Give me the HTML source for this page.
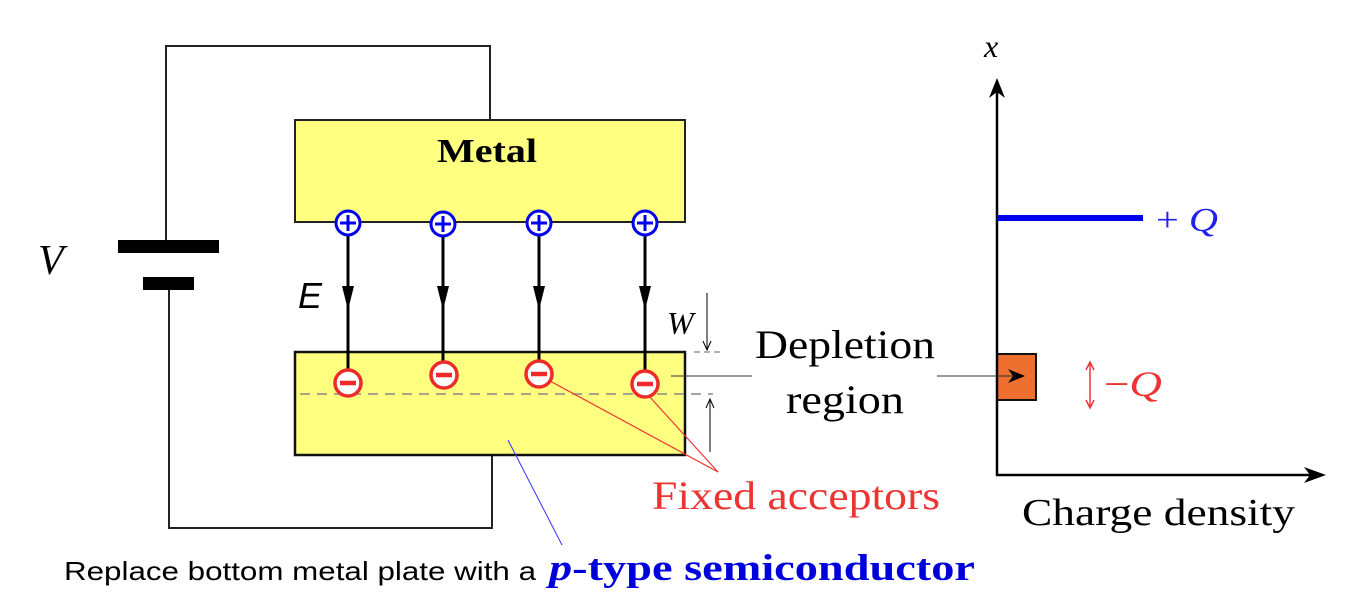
<!DOCTYPE html>
<html><head><meta charset="utf-8"><style>
body{margin:0;background:#fff}
svg{display:block}
.s{font-family:"Liberation Serif",serif}
</style></head><body>
<svg width="1364" height="602" viewBox="0 0 1364 602" xmlns="http://www.w3.org/2000/svg">
<!-- wires -->
<polyline points="166,240 166,46 490,46 490,120" fill="none" stroke="#222" stroke-width="2"/>
<polyline points="169,290 169,528 492,528 492,455" fill="none" stroke="#222" stroke-width="2"/>
<rect x="118" y="240" width="101" height="13" fill="#000"/>
<rect x="143" y="277" width="51" height="13" fill="#000"/>
<text x="38" y="274" class="s" font-size="42" font-style="italic">V</text>
<!-- metal -->
<rect x="295" y="120" width="390" height="102" fill="#ffff80" stroke="#222" stroke-width="2"/>
<text x="437" y="162" class="s" font-size="34" font-weight="bold" textLength="100" lengthAdjust="spacingAndGlyphs">Metal</text>
<!-- semiconductor -->
<rect x="295" y="352" width="390" height="103" fill="#ffff80" stroke="#111" stroke-width="2.5"/>
<line x1="300" y1="394" x2="713" y2="394" stroke="#888" stroke-width="1.5" stroke-dasharray="10,7"/>
<!-- field lines -->
<g stroke="#000" stroke-width="3">
<line x1="348" y1="223" x2="348" y2="382"/>
<line x1="443" y1="223" x2="443" y2="375"/>
<line x1="539" y1="223" x2="539" y2="374"/>
<line x1="645" y1="223" x2="645" y2="384"/>
</g>
<g fill="#000">
<path d="M342,286 L354,286 L348,310 Z"/>
<path d="M437,286 L449,286 L443,310 Z"/>
<path d="M533,286 L545,286 L539,310 Z"/>
<path d="M639,286 L651,286 L645,310 Z"/>
</g>
<text x="298" y="308" font-family="Liberation Sans,sans-serif" font-size="36" font-style="italic">E</text>
<!-- plus -->
<g fill="#fff" stroke="#0000ee" stroke-width="3">
<circle cx="348" cy="223" r="12"/><circle cx="443" cy="224" r="12"/><circle cx="539" cy="223" r="12"/><circle cx="645" cy="223" r="12"/>
</g>
<g stroke="#0000ee" stroke-width="3">
<path d="M340,223h16M348,215v16"/><path d="M435,224h16M443,216v16"/><path d="M531,223h16M539,215v16"/><path d="M637,223h16M645,215v16"/>
</g>
<!-- minus -->
<g fill="#fff" stroke="#ee2a2a" stroke-width="3.5">
<circle cx="348" cy="383" r="13"/><circle cx="444" cy="375" r="13"/><circle cx="539" cy="374" r="13"/><circle cx="645" cy="384" r="13"/>
</g>
<g stroke="#ee2a2a" stroke-width="4.5">
<path d="M340,383h16M436,375h16M531,374h16M637,384h16"/>
</g>
<!-- acceptor pointers -->
<g stroke="#ee3333" stroke-width="1.2">
<line x1="550" y1="381" x2="718" y2="472"/>
<line x1="648" y1="395" x2="718" y2="472"/>
</g>
<text x="652" y="509" class="s" font-size="40" fill="#ee3333" textLength="288" lengthAdjust="spacingAndGlyphs">Fixed acceptors</text>
<!-- W -->
<text x="667" y="334" class="s" font-size="32" font-style="italic">W</text>
<line x1="707" y1="293" x2="707" y2="350" stroke="#000" stroke-width="1"/>
<path d="M703,341 L707,350 L711,341" fill="none" stroke="#000" stroke-width="1"/>
<line x1="694" y1="352" x2="721" y2="352" stroke="#666" stroke-width="1" stroke-dasharray="6,4"/>
<line x1="710" y1="399" x2="710" y2="452" stroke="#000" stroke-width="1"/>
<path d="M706,408 L710,399 L714,408" fill="none" stroke="#000" stroke-width="1"/>
<!-- depletion -->
<line x1="671" y1="376" x2="752" y2="376" stroke="#333" stroke-width="1"/>
<text x="755" y="358" class="s" font-size="40" textLength="180" lengthAdjust="spacingAndGlyphs">Depletion</text>
<text x="786" y="413" class="s" font-size="40" textLength="118" lengthAdjust="spacingAndGlyphs">region</text>
<!-- blue pointer -->
<line x1="508" y1="440" x2="562" y2="545" stroke="#3333ff" stroke-width="1"/>
<text x="64" y="580" font-family="Liberation Sans,sans-serif" font-size="26" textLength="472" lengthAdjust="spacingAndGlyphs">Replace bottom metal plate with a</text>
<text x="549" y="580" class="s" font-size="37" font-weight="bold" fill="#0000dd" textLength="426" lengthAdjust="spacingAndGlyphs"><tspan font-style="italic">p</tspan>-type semiconductor</text>
<!-- graph -->
<rect x="997" y="354" width="39" height="46" fill="#ed7030" stroke="#111" stroke-width="2"/>
<line x1="997" y1="82" x2="997" y2="476" stroke="#000" stroke-width="2.5"/>
<path d="M989,98 L997,78 L1005,98 L997,92 Z" fill="#000"/>
<line x1="996" y1="475" x2="1318" y2="475" stroke="#000" stroke-width="2.5"/>
<path d="M1304,467 L1326,475 L1304,483 L1310,475 Z" fill="#000"/>
<text x="984" y="57" class="s" font-size="32" font-style="italic">x</text>
<line x1="997" y1="218" x2="1143" y2="218" stroke="#0000ee" stroke-width="6"/>
<text x="1156" y="231" class="s" font-size="34" fill="#2222ee" textLength="62" lengthAdjust="spacingAndGlyphs">+ <tspan font-style="italic">Q</tspan></text>
<line x1="937" y1="376" x2="1022" y2="376" stroke="#333" stroke-width="1"/>
<path d="M1008,369 L1025,376 L1008,383 L1013,376 Z" fill="#000"/>
<line x1="1090" y1="363" x2="1090" y2="407" stroke="#ee3333" stroke-width="1.5"/>
<path d="M1086,370 L1090,362 L1094,370 M1086,400 L1090,408 L1094,400" fill="none" stroke="#ee3333" stroke-width="1.5"/>
<text x="1104" y="396" class="s" font-size="36" fill="#ee3333" textLength="58" lengthAdjust="spacingAndGlyphs">−<tspan font-style="italic">Q</tspan></text>
<text x="1022" y="525" class="s" font-size="38" textLength="273" lengthAdjust="spacingAndGlyphs">Charge density</text>
</svg>
</body></html>
